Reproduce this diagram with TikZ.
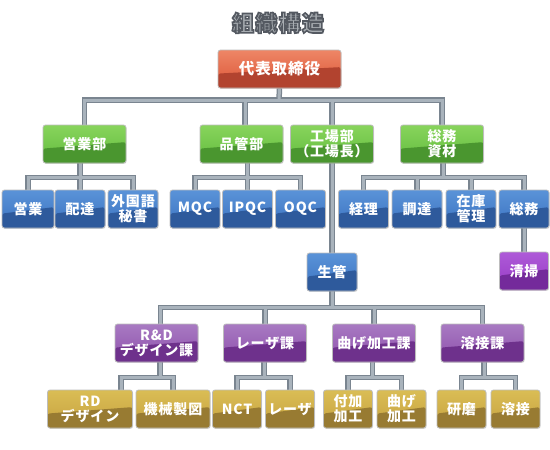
\documentclass[tikz,border=0pt]{standalone}
\usepackage{fontspec}
\newfontfamily\jp[LetterSpace=6]{Noto Sans CJK JP}
\usetikzlibrary{calc,shadows}
\pgfdeclarelayer{bg}
\pgfsetlayers{bg,main}
\definecolor{pipeout}{HTML}{7A8590}
\definecolor{pipein}{HTML}{A9B3BC}
\definecolor{boxedge}{HTML}{BDBDBD}
\definecolor{redL}{HTML}{EE8666}
\definecolor{redM}{HTML}{DC5537}
\definecolor{redD}{HTML}{B2432F}
\definecolor{grnL}{HTML}{88D45C}
\definecolor{grnM}{HTML}{62BC3E}
\definecolor{grnD}{HTML}{4A962F}
\definecolor{bluL}{HTML}{5A93D8}
\definecolor{bluM}{HTML}{3B72C0}
\definecolor{bluD}{HTML}{2E5A9C}
\definecolor{purL}{HTML}{A87AC2}
\definecolor{purM}{HTML}{8E50AC}
\definecolor{purD}{HTML}{6E318C}
\definecolor{pu2L}{HTML}{AE5AD8}
\definecolor{pu2M}{HTML}{963AC4}
\definecolor{pu2D}{HTML}{742A9B}
\definecolor{gldL}{HTML}{DABD55}
\definecolor{gldM}{HTML}{C6A240}
\definecolor{gldD}{HTML}{987B32}
\definecolor{titlefill}{HTML}{A8ADB2}
\tikzset{
  box/.style={rounded corners=2.5pt, draw=boxedge, line width=0.8pt, text=white,
    font=\jp\bfseries\fontsize{14}{15}\selectfont, align=center,
    minimum height=38pt, inner sep=0pt,
    drop shadow={opacity=0.25, shadow xshift=0.6pt, shadow yshift=-0.9pt}},
  gloss/.style n args={3}{top color=#1, bottom color=#2,
    path picture={
      \fill[#3] ($(path picture bounding box.south west)!0.38!(path picture bounding box.north west)$)
        -- ($(path picture bounding box.south east)!0.55!(path picture bounding box.north east)$)
        -- (path picture bounding box.south east)
        -- (path picture bounding box.south west) -- cycle;}},
  redbox/.style={box, gloss={redL}{redM}{redD}, font=\jp\bfseries\fontsize{15.5}{17}\selectfont},
  grnbox/.style={box, gloss={grnL}{grnM}{grnD}, minimum width=83pt},
  blubox/.style={box, gloss={bluL}{bluM}{bluD}, minimum width=50pt},
  purbox/.style={box, gloss={purL}{purM}{purD}, minimum width=83pt},
  pu2box/.style={box, gloss={pu2L}{pu2M}{pu2D}, minimum width=49pt},
  gldbox/.style={box, gloss={gldL}{gldM}{gldD}, minimum width=49pt},
  titlefont/.style={font=\jp\bfseries\fontsize{22}{24}\selectfont, inner sep=0pt},
  pipe/.style={line width=5.5pt, draw=pipeout}
}
\newcommand\allpipes{%
  \draw[pipe] (ceo.south) -- (j0);
  \draw[pipe] (j0) -| (g1.north);
  \draw[pipe] (j0) -| ([xshift=3.5pt]g2.north);
  \draw[pipe] (j0) -| (g3.north);
  \draw[pipe] (j0) -| (g4.north);
  \draw[pipe] (g1.south -| j1) -- (j1);
  \draw[pipe] (j1) -| (b1.north);
  \draw[pipe] (j1) -| (b2.north);
  \draw[pipe] (j1) -| (b3.north);
  \draw[pipe] (g2.south -| j2) -- (j2);
  \draw[pipe] (j2) -| (b4.north);
  \draw[pipe] (j2) -| (b5.north);
  \draw[pipe] (j2) -| (b6.north);
  \draw[pipe] (g3.south -| seikan.north) -- (seikan.north);
  \draw[pipe] (g4.south -| j3) -- (j3);
  \draw[pipe] (j3) -| (b7.north);
  \draw[pipe] (j3) -| (b8.north);
  \draw[pipe] (j3) -| (b9.north);
  \draw[pipe] (j3) -| (b10.north);
  \draw[pipe] (b10.south) -- (seisou.north);
  \draw[pipe] (seikan.south) -- (j4);
  \draw[pipe] (j4) -| ([xshift=4pt]p1.north);
  \draw[pipe] (j4) -| (p2.north);
  \draw[pipe] (j4) -| (p3.north);
  \draw[pipe] (j4) -| (p4.north);
  \draw[pipe] (p1.south -| j5) -- (j5);
  \draw[pipe] (j5) -| ([xshift=31pt]o1.north);
  \draw[pipe] (j5) -| (o2.north);
  \draw[pipe] (p2.south -| j6) -- (j6);
  \draw[pipe] (j6) -| (o3.north);
  \draw[pipe] (j6) -| (o4.north);
  \draw[pipe] (p3.south -| j7) -- (j7);
  \draw[pipe] (j7) -| (o5.north);
  \draw[pipe] (j7) -| (o6.north);
  \draw[pipe] (p4.south -| j8) -- (j8);
  \draw[pipe] (j8) -| (o7.north);
  \draw[pipe] (j8) -| (o8.north);
}
\begin{document}
\begin{tikzpicture}[x=1pt,y=-1pt]
\useasboundingbox (0,0) rectangle (550,450);
% boxes
\node[redbox, minimum width=123pt] (ceo) at (279.5,69) {代表取締役};
\node[grnbox] (g1) at (84.5,144) {営業部};
\node[grnbox] (g2) at (241.5,144) {品管部};
\node[grnbox] (g3) at (332,144) {工場部\\（工場長）};
\node[grnbox] (g4) at (442,144) {総務\\資材};
\node[blubox, minimum width=52pt] (b1) at (28,209) {営業};
\node[blubox] (b2) at (80,209) {配達};
\node[blubox] (b3) at (133,209) {外国語\\秘書};
\node[blubox] (b4) at (195,209) {MQC};
\node[blubox] (b5) at (247.5,209) {IPQC};
\node[blubox] (b6) at (300.5,209) {OQC};
\node[blubox] (b7) at (363.5,209) {経理};
\node[blubox] (b8) at (417,209) {調達};
\node[blubox] (b9) at (471,209) {在庫\\管理};
\node[blubox] (b10) at (524,209) {総務};
\node[blubox] (seikan) at (332,272) {生管};
\node[pu2box] (seisou) at (524,271) {清掃};
\node[purbox] (p1) at (156.5,343) {R\&D\\デザイン課};
\node[purbox] (p2) at (265,343) {レーザ課};
\node[purbox] (p3) at (374,343) {曲げ加工課};
\node[purbox] (p4) at (482.5,343) {溶接課};
\node[gldbox, minimum width=85pt] (o1) at (90,409) {RD\\デザイン};
\node[gldbox, minimum width=74pt] (o2) at (173,409) {機械製図};
\node[gldbox] (o3) at (237,409) {NCT};
\node[gldbox] (o4) at (290,409) {レーザ};
\node[gldbox] (o5) at (348,409) {付加\\加工};
\node[gldbox] (o6) at (401.5,409) {曲げ\\加工};
\node[gldbox] (o7) at (461.5,409) {研磨};
\node[gldbox] (o8) at (515.5,409) {溶接};
% junctions
\coordinate (j0) at (279,100);
\coordinate (j1) at (80,177.5);
\coordinate (j2) at (247.5,177.5);
\coordinate (j3) at (443,177.5);
\coordinate (j4) at (332,307.5);
\coordinate (j5) at (160,377.5);
\coordinate (j6) at (264,377.5);
\coordinate (j7) at (372.5,377.5);
\coordinate (j8) at (484,377.5);
\begin{pgfonlayer}{bg}
  \fill[white] (0,0) rectangle (550,450);
  \allpipes
  \tikzset{pipe/.style={line width=3pt, draw=pipein}}
  \allpipes
\end{pgfonlayer}
% title (outlined text)
\node[titlefont, text=titlefill] (title) at (278,23)
  {\special{pdf:literal direct 2 Tr 1.6 w 0.33 0.35 0.38 RG}組織構造\special{pdf:literal direct 0 Tr}};
\end{tikzpicture}
\end{document}
